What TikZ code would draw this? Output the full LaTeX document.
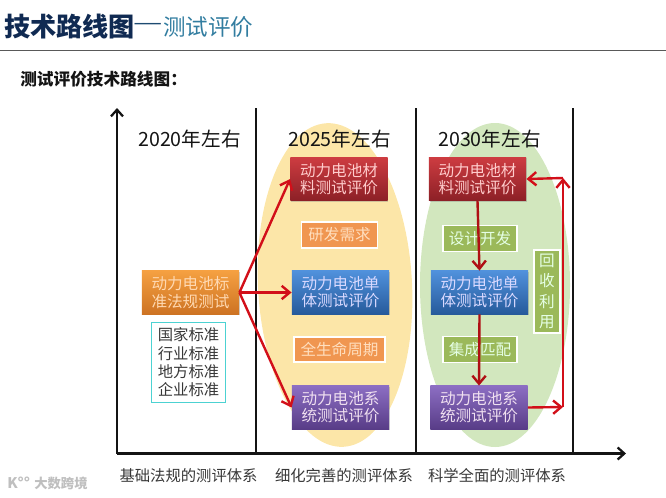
\documentclass[tikz,border=0pt]{standalone}
\usepackage{fontspec}
\usepackage{graphicx}
\usepackage{xcolor}
\usepackage{tikz}
\usetikzlibrary{arrows.meta,positioning,shadows}
\setmainfont{Noto Sans CJK SC}
\definecolor{ink}{RGB}{20,20,20}
\definecolor{navy}{RGB}{16,42,82}
\definecolor{teal2}{RGB}{50,125,160}
\definecolor{arrowred}{RGB}{210,15,25}
\definecolor{darkred}{RGB}{175,15,20}
\definecolor{oval1}{RGB}{252,230,168}
\definecolor{oval2}{RGB}{210,231,190}
\definecolor{redtop}{RGB}{205,60,65}
\definecolor{redbot}{RGB}{140,32,38}
\definecolor{bluetop}{RGB}{80,145,220}
\definecolor{bluebot}{RGB}{38,90,155}
\definecolor{purptop}{RGB}{140,110,195}
\definecolor{purpbot}{RGB}{88,60,135}
\definecolor{orantop}{RGB}{245,160,65}
\definecolor{oranbot}{RGB}{205,115,35}
\definecolor{needfill}{RGB}{240,150,80}
\definecolor{devfill}{RGB}{155,185,90}

\begin{document}
\begin{tikzpicture}[x=0.75pt,y=-0.75pt,
  stagebox/.style={rectangle,draw=none,align=center,minimum width=73pt,minimum height=32.5pt,inner sep=0pt,
    font=\fontsize{11.7}{12.9}\selectfont,drop shadow={shadow xshift=0.6pt,shadow yshift=-0.8pt,opacity=0.35}},
  redbox/.style={stagebox,top color=redtop,bottom color=redbot,text=red!20!white},
  bluebox/.style={stagebox,top color=bluetop,bottom color=bluebot,text=blue!15!white},
  purplebox/.style={stagebox,top color=purptop,bottom color=purpbot,text=violet!12!white},
  orangebox/.style={stagebox,top color=orantop,bottom color=oranbot,text=orange!30!white},
  tagbox/.style={rectangle,draw=white,line width=1.3pt,align=center,inner sep=0pt,
    font=\fontsize{11.7}{12.9}\selectfont,drop shadow={shadow xshift=0.4pt,shadow yshift=-0.5pt,opacity=0.25}},
  needbox/.style={tagbox,fill=needfill,text=orange!25!white,minimum height=19pt},
  devbox/.style={tagbox,fill=devfill,text=green!10!white,minimum height=19.5pt},
  stdbox/.style={rectangle,draw=teal!50!cyan!70!white,line width=0.9pt,align=center,minimum width=56pt,minimum height=60.5pt,inner sep=0pt,
    text=ink!85,font=\fontsize{11.5}{13.8}\selectfont},
  axis/.style={-{Straight Barb[length=5pt,width=9pt]},line width=1.7pt,draw=ink},
  divider/.style={line width=1.7pt,draw=ink},
  arrow/.style={-{Straight Barb[length=6pt,width=10pt]},line width=1.8pt,draw=arrowred},
  year/.style={font=\fontsize{14.7}{17}\selectfont,text=ink},
  basis/.style={font=\fontsize{11.5}{13}\selectfont,text=ink!85}
]
\useasboundingbox (0,0) rectangle (666,497);
% header
\draw[line width=1.4pt,draw=black!65] (0,50.5) -- (666,50.5);
\node[anchor=west,inner sep=0pt,text=navy,font=\fontsize{19.6}{22}\bfseries\selectfont] (title) at (4,27) {技术路线图};
\node[anchor=west,inner sep=0pt,text=navy!60!teal2,font=\fontsize{17}{20}\selectfont] (dash) at (134,27) {\makebox[21pt][c]{\scalebox{1.45}[1]{—}}};
\node[anchor=west,inner sep=0pt,text=teal2,font=\fontsize{16.9}{20}\selectfont] (subtitle) at (163,27) {测试评价};
\node[anchor=west,inner sep=0pt,text=ink,font=\fontsize{12.5}{14}\bfseries\selectfont] (head) at (20,79.5) {测试评价技术路线图：};
% ovals
\fill[oval1,rotate around={3:(335,285)}] (335,285) ellipse [x radius=77,y radius=162];
\fill[oval2] (495,285) ellipse [x radius=75,y radius=162];
% axes
\coordinate (origin) at (117,453.5);
\coordinate (ytop) at (117,108);
\coordinate (xend) at (626,453.5);
\draw[axis] (origin) -- (ytop);
\draw[axis] (origin) -- (xend);
\draw[divider] (256,108) -- (256,453.5);
\draw[divider] (416,108) -- (416,453.5);
\draw[divider] (573,108) -- (573,453.5);
% years
\node[year] (y2020) at (189.5,139) {2020年左右};
\node[year] (y2025) at (339.5,139) {2025年左右};
\node[year] (y2030) at (489.5,139) {2030年左右};
% first column
\node[orangebox] (std) at (190.5,292.5) {动力电池标\\准法规测试};
\node[stdbox] (stdlist) at (188.5,362.5) {国家标准\\行业标准\\地方标准\\企业标准};
% second column
\node[redbox] (mat2) at (339,179) {动力电池材\\料测试评价};
\node[bluebox] (cell2) at (340.5,292.5) {动力电池单\\体测试评价};
\node[purplebox] (sys2) at (340.5,407.5) {动力电池系\\统测试评价};
\node[needbox,minimum width=57pt] (need) at (339.5,235) {研发需求};
\node[needbox,minimum width=68pt] (life) at (339.5,349.5) {全生命周期};
% third column
\node[redbox] (mat3) at (477.5,179) {动力电池材\\料测试评价};
\node[bluebox] (cell3) at (479.5,292.5) {动力电池单\\体测试评价};
\node[purplebox] (sys3) at (479,407.5) {动力电池系\\统测试评价};
\node[devbox,minimum width=56pt] (dev) at (480,238.5) {设计开发};
\node[devbox,minimum width=56pt] (fit) at (480,349.5) {集成匹配};
\node[devbox,minimum width=19pt,minimum height=62pt,font=\fontsize{11.7}{15.3}\selectfont] (recycle) at (547,291.5) {回\\收\\利\\用};
% arrows
\coordinate (turnlow) at (563,407);
\coordinate (turnup) at (563,178);
\draw[arrow] (std.east) -- (mat2.west);
\draw[arrow] (std.east) -- (cell2.west);
\draw[arrow] (std.east) -- (sys2.west);
\draw[arrow,draw=darkred] (mat3.south) -- (cell3.north);
\draw[arrow,draw=darkred] (cell3.south) -- (sys3.north);
\draw[arrow] (sys3.east) -- (turnlow);
\draw[arrow] (turnlow) -- (turnup);
\draw[arrow] (turnup) -- (mat3.east);
% bottom labels
\node[basis] (base1) at (188.5,476) {基础法规的测评体系};
\node[basis] (base2) at (344,476) {细化完善的测评体系};
\node[basis] (base3) at (497,476) {科学全面的测评体系};
% watermark
\node[anchor=west,inner sep=0pt,text=black!25,font=\fontsize{11}{12}\bfseries\selectfont] (logo) at (7,483) {K°°};
\node[anchor=west,inner sep=0pt,text=black!25,font=\fontsize{10}{12}\bfseries\selectfont] (mark) at (34,483) {大数跨境};
\end{tikzpicture}
\end{document}
